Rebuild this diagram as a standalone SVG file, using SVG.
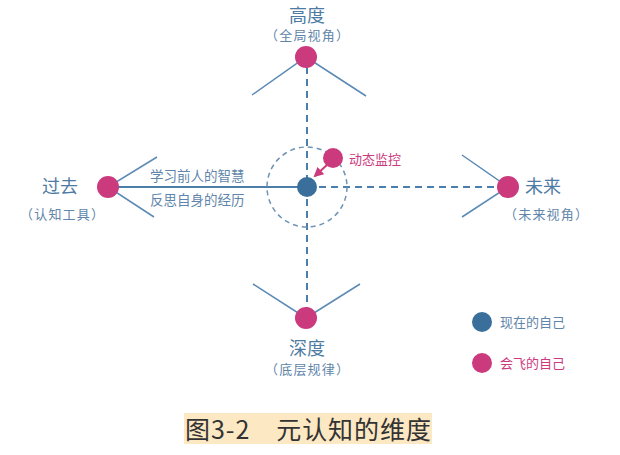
<svg xmlns="http://www.w3.org/2000/svg" width="620" height="455" viewBox="0 0 620 455">
<style>
text{font-family:"Noto Sans CJK SC","Noto Sans",sans-serif}
.t{fill:#4e7ba3;font-size:18px;text-anchor:middle}
.s{fill:#5f86aa;font-size:13px;text-anchor:middle}
.w{stroke:#5a8ab5;stroke-width:1.5;fill:none}
.d{stroke:#4a7fac;stroke-width:2;stroke-dasharray:7,5;fill:none}
.p{fill:#cc3a7e}
.b{fill:#3a6f9c}
</style>
<defs><marker id="ar" viewBox="0 0 10 10" refX="8" refY="5" markerWidth="5" markerHeight="5" orient="auto"><path d="M0,0L10,5L0,10z" fill="#cc3a7e"/></marker></defs>
<g id="connectors">
<line class="d" x1="307" y1="67" x2="307" y2="308"/>
<line class="d" x1="307" y1="187" x2="498" y2="187"/>
<line x1="118" y1="187" x2="300" y2="187" stroke="#4a7fac" stroke-width="2"/>
<circle cx="307" cy="187" r="40" stroke="#6f93b5" stroke-width="1.5" stroke-dasharray="5,4" fill="none"/>
<path class="w" d="M252,95L306,57L366,96M157,157L108,187L154,217M462,155L508,187L462,217M253,284L306,318L360,284"/>
<line x1="328" y1="164" x2="315" y2="176" stroke="#cc3a7e" stroke-width="2" marker-end="url(#ar)"/>
</g>
<g id="center"><circle class="b" cx="307" cy="187" r="10"/></g>
<g id="monitor"><circle class="p" cx="333" cy="158" r="10"/><text x="349" y="164" font-size="13" fill="#cc3a7e">动态监控</text></g>
<g id="top"><circle class="p" cx="306" cy="57" r="11"/><text class="t" x="307" y="22">高度</text><text class="s" x="307" y="40" textLength="84">（全局视角）</text></g>
<g id="left"><circle class="p" cx="108" cy="187" r="11"/><text class="t" x="60" y="193">过去</text><text class="s" x="62" y="219" textLength="84">（认知工具）</text>
<text x="150" y="181" font-size="13.5" fill="#5f86aa">学习前人的智慧</text><text x="150" y="205" font-size="13.5" fill="#5f86aa">反思自身的经历</text></g>
<g id="right"><circle class="p" cx="508" cy="187" r="11"/><text class="t" x="543" y="193">未来</text><text class="s" x="546" y="219" textLength="84">（未来视角）</text></g>
<g id="bottom"><circle class="p" cx="306" cy="318" r="11"/><text class="t" x="307" y="355">深度</text><text class="s" x="307" y="374" textLength="84">（底层规律）</text></g>
<g id="legend"><circle class="b" cx="482" cy="322" r="10"/><text x="500" y="327" font-size="13" fill="#5f86aa">现在的自己</text>
<circle class="p" cx="482" cy="363" r="10"/><text x="500" y="368" font-size="13" fill="#cc3a7e">会飞的自己</text></g>
<g id="caption"><rect x="184" y="413" width="248" height="31" fill="#fde8c4"/><text x="185" y="439" font-size="25" fill="#333" textLength="246">图3-2　元认知的维度</text></g>
</svg>
